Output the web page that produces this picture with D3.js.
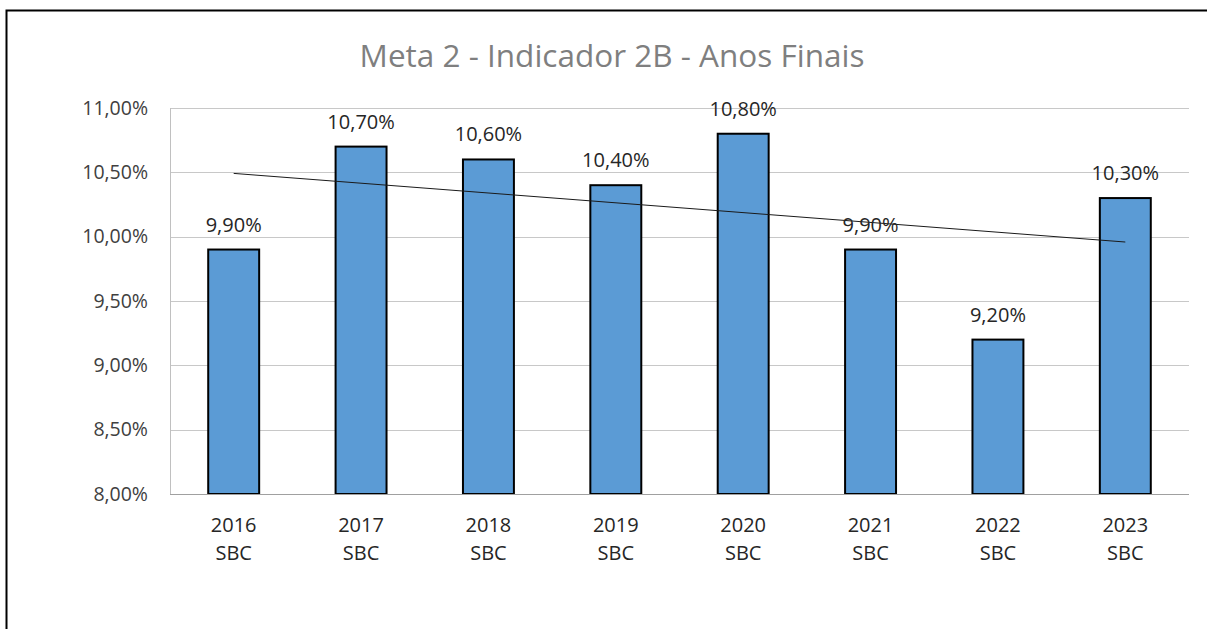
<!DOCTYPE html>
<html>
<head>
<meta charset="utf-8">
<script src="https://cdn.jsdelivr.net/npm/d3@7"></script>
<style>
  html, body { margin: 0; padding: 0; background: #fff; }
  svg { display: block; }
</style>
</head>
<body>
<svg id="chart" width="1207" height="629"></svg>
<script>
const title = "Meta 2 - Indicador 2B - Anos Finais";
const years = ["2016", "2017", "2018", "2019", "2020", "2021", "2022", "2023"];
const subLabel = "SBC";
const values = [9.9, 10.7, 10.6, 10.4, 10.8, 9.9, 9.2, 10.3];
const yTicks = [8.0, 8.5, 9.0, 9.5, 10.0, 10.5, 11.0];

const fontFamily = "'Open Sans', 'Noto Sans', sans-serif";
const fmt = v => d3.format(".2f")(v).replace(".", ",") + "%";

const svg = d3.select("#chart");
const W = 1207, H = 629;
const plot = { left: 170, right: 1189, top: 108, bottom: 494 };

// outer frame (cropped at right and bottom)
svg.append("path")
  .attr("d", `M6.5,${H + 2}V10.5H${W + 2}`)
  .attr("fill", "none").attr("stroke", "#000").attr("stroke-width", 2);

const x = d3.scaleBand().domain(years).range([plot.left, plot.right]).paddingInner(0.6).paddingOuter(0.3);
const y = d3.scaleLinear().domain([8, 11]).range([plot.bottom, plot.top]);

// gridlines
svg.append("g").selectAll("line").data(yTicks).join("line")
  .attr("x1", plot.left).attr("x2", plot.right)
  .attr("y1", d => Math.round(y(d)) + 0.5).attr("y2", d => Math.round(y(d)) + 0.5)
  .attr("stroke", "#c8c8c8").attr("stroke-width", 1);

// left axis line
svg.append("line")
  .attr("x1", plot.left + 0.5).attr("x2", plot.left + 0.5)
  .attr("y1", plot.top).attr("y2", plot.bottom)
  .attr("stroke", "#c0c0c0");

// y axis labels
const yAxis = d3.axisLeft(y).tickValues(yTicks).tickFormat(fmt).tickSize(0).tickPadding(22);
const gy = svg.append("g").attr("transform", `translate(${plot.left},0)`).call(yAxis);
gy.select(".domain").remove();
gy.selectAll("text")
  .attr("font-family", fontFamily).attr("font-size", 19.5).attr("fill", "#404040");

// bars
svg.append("g").selectAll("rect").data(values).join("rect")
  .attr("x", (d, i) => x(years[i]))
  .attr("y", d => y(d))
  .attr("width", x.bandwidth())
  .attr("height", d => y(8) - y(d))
  .attr("fill", "#5B9BD5")
  .attr("stroke", "#000").attr("stroke-width", 2);

// bottom axis line
svg.append("line")
  .attr("x1", plot.left).attr("x2", plot.right)
  .attr("y1", plot.bottom + 0.5).attr("y2", plot.bottom + 0.5)
  .attr("stroke", "#a0a0a0");

// x axis labels
const xAxis = d3.axisBottom(x).tickSize(0).tickPadding(0).tickFormat(() => "");
const gx = svg.append("g").attr("transform", `translate(0,${plot.bottom})`).call(xAxis);
gx.select(".domain").remove();
gx.selectAll(".tick text").remove();
gx.selectAll(".tick").each(function(d) {
  const t = d3.select(this);
  t.append("text").attr("y", 38).attr("text-anchor", "middle")
    .attr("font-family", fontFamily).attr("font-size", 20).attr("fill", "#262626").text(d);
  t.append("text").attr("y", 66).attr("text-anchor", "middle")
    .attr("font-family", fontFamily).attr("font-size", 20).attr("fill", "#262626").text(subLabel);
});

// linear trendline
const n = values.length;
const idx = d3.range(n);
const mx = d3.mean(idx), my = d3.mean(values);
const slope = d3.sum(idx, i => (i - mx) * (values[i] - my)) / d3.sum(idx, i => (i - mx) ** 2);
const icpt = my - slope * mx;
const trend = [0, n - 1].map(i => [x(years[i]) + x.bandwidth() / 2, y(icpt + slope * i)]);
svg.append("path").attr("d", d3.line()(trend))
  .attr("fill", "none").attr("stroke", "#1a1a1a").attr("stroke-width", 1);

// data labels
svg.append("g").selectAll("text").data(values).join("text")
  .attr("x", (d, i) => x(years[i]) + x.bandwidth() / 2)
  .attr("y", d => y(d) - 18)
  .attr("text-anchor", "middle")
  .attr("font-family", fontFamily).attr("font-size", 20).attr("fill", "#262626")
  .text(fmt);

// title
svg.append("text")
  .attr("x", 612).attr("y", 67)
  .attr("text-anchor", "middle")
  .attr("font-family", fontFamily).attr("font-size", 31.5).attr("fill", "#7f7f7f")
  .text(title);
</script>
</body>
</html>
